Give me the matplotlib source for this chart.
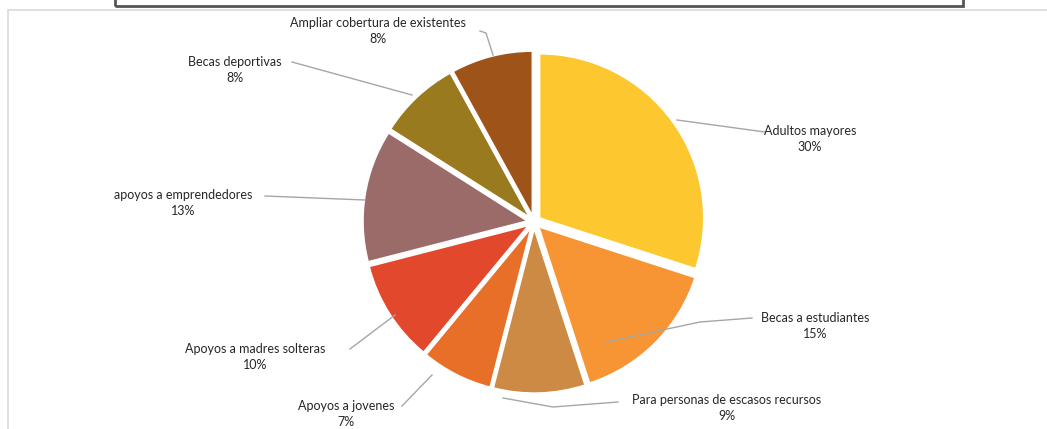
import matplotlib.pyplot as plt
from matplotlib.patches import Rectangle

plt.rcParams['font.family'] = ['Lato', 'DejaVu Sans']

# datos
categorias = ['Adultos mayores', 'Becas a estudiantes', 'Para personas de escasos recursos',
              'Apoyos a jovenes', 'Apoyos a madres solteras', 'apoyos a emprendedores',
              'Becas deportivas', 'Ampliar cobertura de existentes']
porcentajes = [30, 15, 9, 7, 10, 13, 8, 8]
colores = ['#FDC72F', '#F79433', '#CC8A45', '#E86F27', '#E2492C', '#9B6B6A', '#9A7A1E', '#9E5418']

# posiciones de etiquetas (px) y lineas guia
etiquetas_pos = [(810, 139), (815, 326), (727, 408), (346, 414), (255, 357), (183, 203), (235, 70), (378, 31)]
lineas = [[(677, 120), (765, 132)],
          [(606, 342), (700, 322), (752, 318)],
          [(503, 398), (553, 407), (618, 402)],
          [(432, 375), (402, 406)],
          [(395, 315), (350, 349)],
          [(365, 200), (265, 196)],
          [(412, 95), (292, 62)],
          [(493, 55), (486, 33), (480, 31)]]

W, H = 1047, 429
fig = plt.figure(figsize=(W / 100, H / 100), dpi=100)
ax = fig.add_axes([0, 0, 1, 1])

# marcos
ax.add_patch(Rectangle((8, -5), W, H - 10 + 5, fill=False, edgecolor='#d9d9d9', lw=1.2))
ax.add_patch(Rectangle((115, H - 6), 848, 20, fill=False, edgecolor='#555555', lw=2))

# explode va en unidades de datos (px)
ax.pie(porcentajes, colors=colores, startangle=90, counterclock=False,
       center=(534, 207), radius=164, explode=[7] * len(porcentajes),
       wedgeprops=dict(edgecolor='white', linewidth=1), frame=True)
ax.set_xlim(0, W)
ax.set_ylim(0, H)
ax.set_aspect('equal')
ax.axis('off')

for cat, p, (x, y), ln in zip(categorias, porcentajes, etiquetas_pos, lineas):
    ax.text(x, H - y, f'{cat}\n{p}%', ha='center', va='center', fontsize=9,
            color='#262626', linespacing=1.35)
    ax.plot([a for a, b in ln], [H - b for a, b in ln], color='#a6a6a6', lw=1)

fig.savefig('out.png', dpi=100)
